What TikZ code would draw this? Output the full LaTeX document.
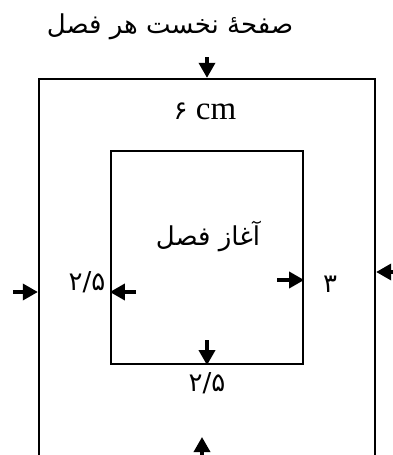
\documentclass[tikz,border=0pt]{standalone}
\usepackage{fontspec}
\setmainfont{Liberation Serif}
\newfontfamily\farsifont[Script=Arabic]{DejaVu Sans}
\TeXXeTstate=1
\usetikzlibrary{arrows.meta}
\tikzset{
  box/.style={draw, line width=2.3pt, inner sep=0pt},
  arr/.style={line width=3.4pt, -{Triangle[length=15pt,width=16pt]}},
  lbl/.style={font=\fontsize{26}{30}\selectfont\farsifont, inner sep=0pt}
}
\begin{document}
\begin{tikzpicture}[x=1pt,y=-1pt]
\useasboundingbox (0,0) rectangle (393,455);
% the page and the chapter opening
\node[box, minimum width=336pt, minimum height=376.7pt] (page) at (207,267.35) {};
\node[box, minimum width=192pt, minimum height=213pt] (chap) at (207,257.5) {};
% texts
\node[lbl] (title) at (170,27) {\beginR صفحهٔ نخست هر فصل\endR};
\node[lbl, font=\fontsize{33}{36}\selectfont] (wid) at (205,111) {{\farsifont\fontsize{26}{30}\selectfont ۶} cm};
\node[lbl] (start) at (208,236) {\beginR آغاز فصل\endR};
\node[lbl] (lft) at (87,282) {۲/۵};
\node[lbl] (rgt) at (330,284) {۳};
\node[lbl] (btm) at (207,383) {۲/۵};
% margin arrows
\coordinate (a1) at (207,57);
\draw[arr] (a1) -- (page.north);
\coordinate (a2) at (13,292);
\draw[arr] (a2) -- (a2 -| page.west);
\coordinate (a3) at (136,292);
\draw[arr] (a3) -- (a3 -| chap.west);
\coordinate (a4) at (277,280);
\draw[arr] (a4) -- (a4 -| chap.east);
\coordinate (a5) at (394,272);
\draw[arr] (a5) -- (a5 -| page.east);
\coordinate (a6) at (207,340);
\draw[arr] (a6) -- (chap.south);
\coordinate (a7) at (202,462);
\coordinate (a8) at (202,437);
\draw[arr] (a7) -- (a8);
\end{tikzpicture}
\end{document}
